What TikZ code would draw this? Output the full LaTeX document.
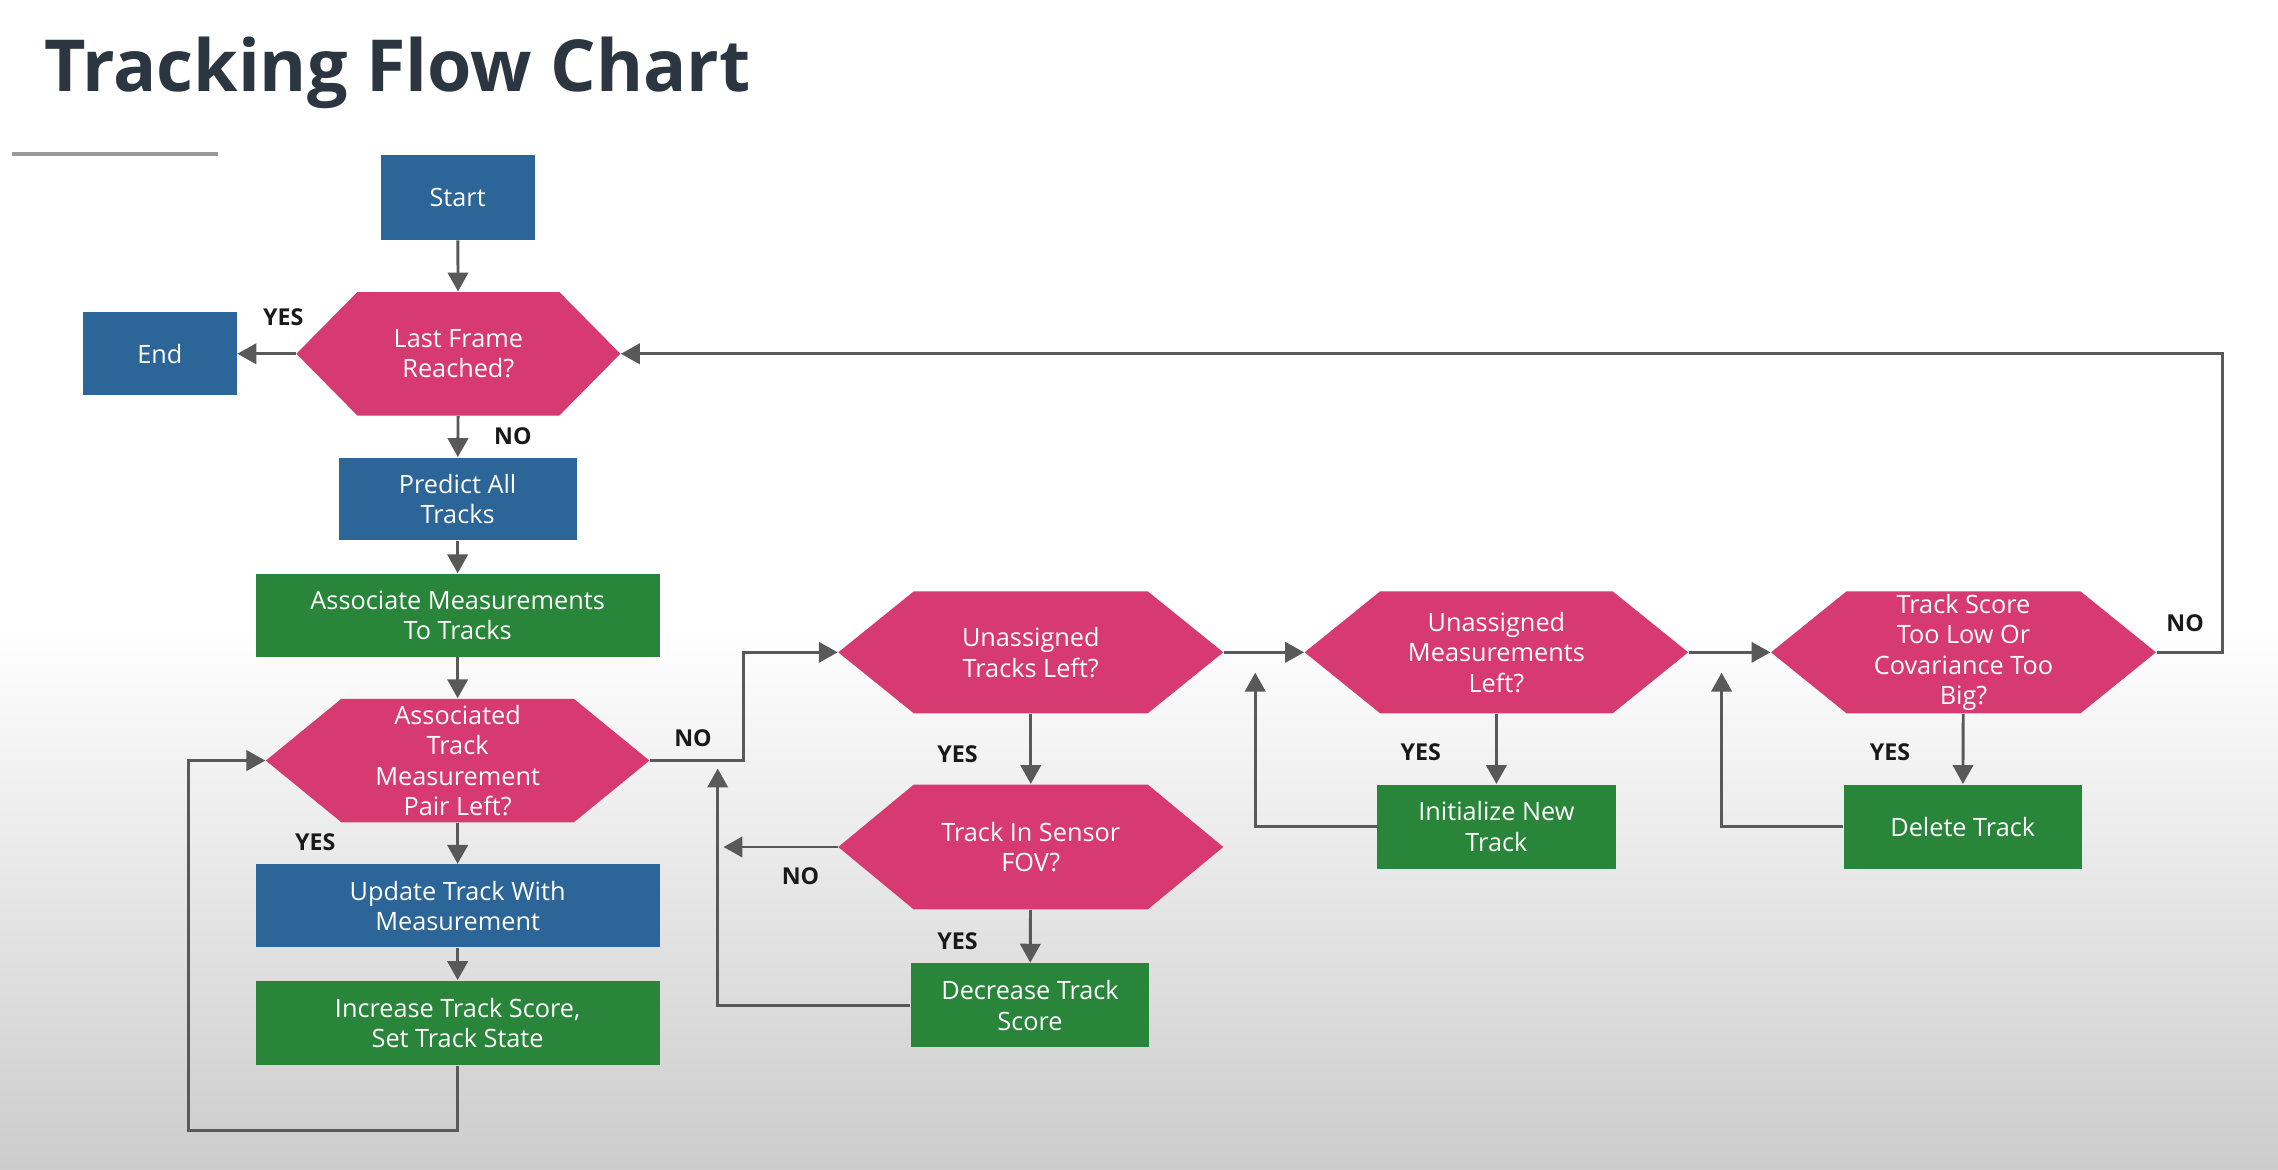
\documentclass[tikz,border=0pt]{standalone}
\usepackage{fontspec}
\setmainfont{Open Sans}
\usetikzlibrary{arrows.meta,calc}
\definecolor{bluec}{HTML}{2C6597}
\definecolor{pinkc}{HTML}{D73A70}
\definecolor{greenc}{HTML}{28853A}
\definecolor{linec}{HTML}{595959}
\definecolor{titlec}{HTML}{2B3640}
\begin{document}
\begin{tikzpicture}[x=0.5pt,y=-0.5pt,
  txt/.style={font=\fontsize{8.7}{10.5}\selectfont, text=white, align=center, inner sep=0pt},
  blk/.style={txt, rectangle, fill=bluec},
  grn/.style={txt, rectangle, fill=greenc},
  hex/.style={txt, rectangle, path picture={
    \fill[pinkc] (path picture bounding box.west)
      -- ([xshift=#1]path picture bounding box.north west)
      -- ([xshift=-#1]path picture bounding box.north east)
      -- (path picture bounding box.east)
      -- ([xshift=-#1]path picture bounding box.south east)
      -- ([xshift=#1]path picture bounding box.south west) -- cycle;}},
  arr/.style={draw=linec, line width=1pt, -{Triangle[length=6.5pt,width=7pt]}},
  lab/.style={font=\bfseries\fontsize{8}{9}\selectfont, text=black!90, inner sep=0pt}
]
\useasboundingbox (0,0) rectangle (1568,805);
\fill[white] (0,0) rectangle (1568,805);
\shade[top color=white, bottom color=gray!40] (0,430) rectangle (1568,805);

\node[anchor=base west, font=\bfseries\fontsize{24.7}{30}\selectfont, text=titlec, inner sep=0pt] (title) at (30,63) {Tracking Flow Chart};
\draw[gray!80, line width=1.2pt] (8,106) -- (150,106);

% nodes
\node[blk, minimum width=53pt, minimum height=29pt] (start) at (315,136) {Start};
\node[blk, minimum width=53pt, minimum height=28.5pt] (endn) at (110,243.5) {End};
\node[hex=21pt, minimum width=111.5pt, minimum height=42.5pt] (last) at (315.5,243.5) {Last Frame\\Reached?};
\node[blk, minimum width=82pt, minimum height=28.5pt] (predict) at (315,343.5) {Predict All\\Tracks};
\node[grn, minimum width=139pt, minimum height=28.5pt] (assoc) at (315,423.5) {Associate Measurements\\To Tracks};
\node[hex=26pt, minimum width=132pt, minimum height=42.5pt] (pair) at (315,523.5) {Associated\\Track\\Measurement\\Pair Left?};
\node[blk, minimum width=139pt, minimum height=28.5pt] (update) at (315,623.5) {Update Track With\\Measurement};
\node[grn, minimum width=139pt, minimum height=29pt] (increase) at (315,704) {Increase Track Score,\\Set Track State};

\node[hex=26pt, minimum width=132.5pt, minimum height=42pt] (utl) at (709.5,449) {Unassigned\\Tracks Left?};
\node[hex=26pt, minimum width=132.5pt, minimum height=43pt] (fov) at (709.5,583) {Track In Sensor\\FOV?};
\node[grn, minimum width=82pt, minimum height=29pt] (decrease) at (709,692) {Decrease Track\\Score};

\node[hex=26pt, minimum width=132pt, minimum height=42pt] (uml) at (1030,449) {Unassigned\\Measurements\\Left?};
\node[grn, minimum width=82pt, minimum height=29pt] (init) at (1030,569) {Initialize New\\Track};

\node[hex=26pt, minimum width=132.5pt, minimum height=42pt] (score) at (1351.5,449) {Track Score\\Too Low Or\\Covariance Too\\Big?};
\node[grn, minimum width=82pt, minimum height=29pt] (delete) at (1351,569) {Delete Track};

% labels
\node[lab] (y1) at (195,218) {YES};
\node[lab] (n1) at (353,300) {NO};
\node[lab] (n2) at (477,508) {NO};
\node[lab] (y2) at (217,580) {YES};
\node[lab] (y3) at (659,519) {YES};
\node[lab] (n3) at (551,603) {NO};
\node[lab] (y4) at (659,648) {YES};
\node[lab] (y5) at (978,518) {YES};
\node[lab] (y6) at (1301,518) {YES};
\node[lab] (n4) at (1504,429) {NO};

% helper coordinates
\coordinate (lb) at (130,778);
\coordinate (pj) at (512,523.5);
\coordinate (fovno) at (498,583);
\coordinate (decup) at (494,529);
\coordinate (initup) at (864,463);
\coordinate (delup) at (1185,463);
\coordinate (sj) at (1530,449);

% connectors
\draw[arr] (start) -- (last);
\draw[arr] (last.west) -- (endn.east);
\draw[arr] (last) -- (predict);
\draw[arr] (predict) -- (assoc);
\draw[arr] (assoc) -- (pair);
\draw[arr] (pair) -- (update);
\draw[arr] (update) -- (increase);
\draw[arr] (increase.south) |- (lb) |- (pair.west);
\draw[arr] (pair.east) -- (pj) |- (utl.west);
\draw[arr] (utl) -- (fov);
\draw[arr] (fov.west) -- (fovno);
\draw[arr] (fov) -- (decrease);
\draw[arr] (decrease.west) -| (decup);
\draw[arr] (utl.east) -- (uml.west);
\draw[arr] (uml) -- (init);
\draw[arr] (init.west) -| (initup);
\draw[arr] (uml.east) -- (score.west);
\draw[arr] (score) -- (delete);
\draw[arr] (delete.west) -| (delup);
\draw[arr] (score.east) -- (sj) |- (last.east);
\end{tikzpicture}
\end{document}
